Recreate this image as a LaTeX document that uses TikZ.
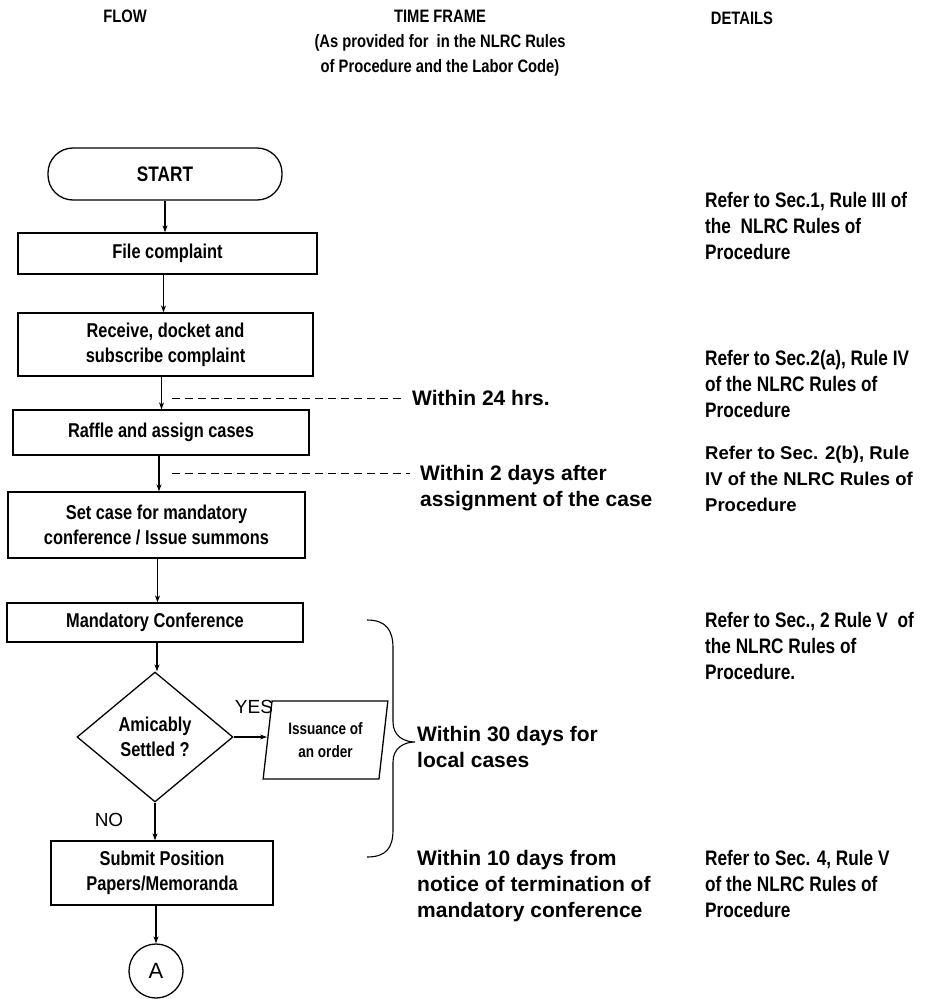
\documentclass[tikz,border=0pt]{standalone}
\usepackage{fontspec}
\setmainfont{Liberation Sans}
\newfontfamily\narf{Liberation Sans}[FakeStretch=0.82]
\usetikzlibrary{shapes.geometric,arrows.meta,calc}
\begin{document}
\begin{tikzpicture}[x=1pt,y=-1pt,
  every node/.style={inner sep=0pt},
  nb/.style={font=\narf\bfseries\fontsize{20}{25}\selectfont},
  hdr/.style={font=\narf\bfseries\fontsize{18}{25}\selectfont, align=center},
  det/.style={font=\narf\bfseries\fontsize{21}{26}\selectfont, align=left, anchor=north west},
  detw/.style={font=\bfseries\fontsize{18.5}{26}\selectfont, align=left, anchor=north west},
  tf/.style={font=\bfseries\fontsize{21}{26}\selectfont, align=left, anchor=north west},
  proc/.style={draw, line width=1.3pt, rectangle, nb, align=center},
  arr/.style={-{Stealth[length=7pt,width=5pt]}, line width=1.1pt},
  dsh/.style={line width=1pt, dash pattern=on 8pt off 5pt},
  lbl/.style={font=\fontsize{19}{22}\selectfont}
]
\useasboundingbox (0,0) rectangle (934,999);

% headers
\node[hdr] (hflow) at (125,16) {FLOW};
\node[hdr] (htime) at (440,16) {TIME FRAME};
\node[hdr] (hsub) at (440,55) {(As provided for\ \ in the NLRC Rules\\of Procedure and the Labor Code)};
\node[hdr] (hdet) at (742,18) {DETAILS};

% flow
\node[proc, rounded corners=25pt, minimum width=234pt, minimum height=52pt, font=\narf\bfseries\fontsize{21}{25}\selectfont] (start) at (165,174) {START};
\node[proc, minimum width=299pt, minimum height=41pt] (file) at (167.5,253.5) {File complaint};
\node[proc, minimum width=295pt, minimum height=63pt] (recv) at (165.5,344.5) {Receive, docket and\\subscribe complaint};
\node[proc, minimum width=296pt, minimum height=45pt] (raffle) at (161,432.5) {Raffle and assign cases};
\node[proc, minimum width=297pt, minimum height=66pt] (setc) at (156.5,525) {Set case for mandatory\\conference / Issue summons};
\node[proc, minimum width=296pt, minimum height=39pt] (mand) at (155,622.5) {Mandatory Conference};
\node[draw, diamond, line width=1.3pt, minimum width=156pt, minimum height=130pt, nb, align=center] (dia) at (155,737) {Amicably\\Settled ?};
\node[draw, trapezium, trapezium left angle=80, trapezium right angle=100, trapezium stretches=true, minimum width=125pt, minimum height=78pt, line width=1.3pt, font=\narf\bfseries\fontsize{16.5}{23}\selectfont, align=center] (para) at (325.5,740) {Issuance of\\an order};
\node[proc, minimum width=222pt, minimum height=64pt] (sub) at (162,873) {Submit Position\\Papers/Memoranda};
\node[draw, circle, line width=1.3pt, minimum size=54pt, font=\fontsize{22}{22}\selectfont] (A) at (156,971) {A};

\node[lbl] (yes) at (254,707) {YES};
\node[lbl] (no) at (109,820) {NO};

% arrows
\draw[arr] (start.south) -- (start.south |- file.north);
\draw[arr] ([xshift=-4pt]file.south) -- ([xshift=-4pt]file.south |- recv.north);
\draw[arr] ([xshift=-4pt]recv.south) -- ([xshift=-4pt]recv.south |- raffle.north);
\draw[arr] ([xshift=-2pt]raffle.south) -- ([xshift=-2pt]raffle.south |- setc.north);
\draw[arr] ([xshift=1pt]setc.south) -- ([xshift=1pt]setc.south |- mand.north);
\draw[arr] ([xshift=2pt]mand.south) -- ([xshift=2pt]mand.south |- dia.north);
\draw[arr] (dia.east) -- (dia.east -| para.west);
\draw[arr] (dia.south) -- (dia.south |- sub.north);
\draw[arr] (sub.south -| A.north) -- (A.north);

% time frame
\node[tf, anchor=west] (t24) at (412,398) {Within 24 hrs.};
\coordinate (d1) at (172,398);
\draw[dsh] (d1) -- ([xshift=-10pt]t24.west);

\node[tf] (t2) at (420,465) {Within 2 days after\\assignment of the case};
\coordinate (d2) at (172,473);
\draw[dsh] (d2) -- ([xshift=-10pt,yshift=-8pt]t2.north west);

\node[tf] (t30) at (417,726) {Within 30 days for\\local cases};
\node[tf] (t10) at (417,850) {Within 10 days from\\notice of termination of\\mandatory conference};

% brace
\draw[line width=1.1pt] (367,620) .. controls (386,620) and (393,630) .. (393,648) -- (393,722)
  .. controls (393,736) and (404,742) .. (415,742)
  .. controls (404,742) and (393,748) .. (393,762) -- (393,830)
  .. controls (393,848) and (386,857) .. (367,857);

% details
\node[det] (r1) at (705,192) {Refer to Sec.1, Rule III of\\the\ \ NLRC Rules of\\Procedure};
\node[det] (r2) at (705,350) {Refer to Sec.2(a), Rule IV\\of the NLRC Rules of\\Procedure};
\node[detw] (r3) at (705,446) {Refer to Sec. 2(b), Rule\\IV of the NLRC Rules of\\Procedure};
\node[det] (r4) at (705,612) {Refer to Sec., 2 Rule V\ \ of\\the NLRC Rules of\\Procedure.};
\node[det] (r5) at (705,850) {Refer to Sec. 4, Rule V\\of the NLRC Rules of\\Procedure};
\end{tikzpicture}
\end{document}
